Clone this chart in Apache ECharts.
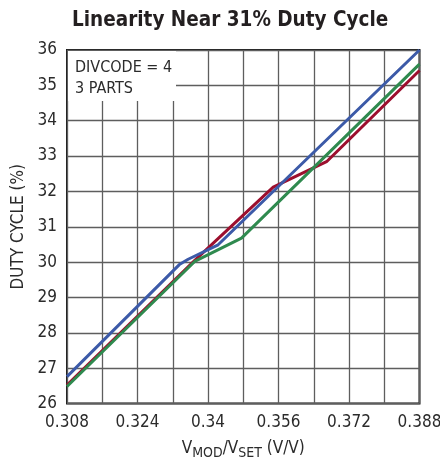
<!DOCTYPE html>
<html>
<head>
<meta charset="utf-8">
<script src="https://cdn.jsdelivr.net/npm/echarts@6/dist/echarts.min.js"></script>
<style>
  html, body { margin: 0; padding: 0; background: #fff; }
  #chart { width: 440px; height: 462px; }
</style>
</head>
<body>
<div id="chart"></div>
<script>
// Duty cycle vs. modulation ratio for three parts, DIVCODE = 4
const xTickLabels = ['0.308', '0.316', '0.324', '0.332', '0.34', '0.348', '0.356', '0.364', '0.372', '0.38', '0.388'];

const part1X = [0.308, 0.3335, 0.3355, 0.3423, 0.388];   // blue
const part1Y = [26.76, 29.93, 30.08, 30.49, 36.0];

const part2X = [0.308, 0.337, 0.3548, 0.3669, 0.388];    // red
const part2Y = [26.52, 30.05, 32.12, 32.84, 35.42];

const part3X = [0.308, 0.3371, 0.3476, 0.388];           // green
const part3Y = [26.48, 30.03, 30.68, 35.60];

const pairs = (xs, ys) => xs.map((x, i) => [x, ys[i]]);

const FONT = '"DejaVu Sans Condensed", "Liberation Sans Narrow", sans-serif';
const TEXT = '#2b2b2b';
const GRIDLINE = { color: '#5e5e5e', width: 1.3 };

const chart = echarts.init(document.getElementById('chart'), null, { renderer: 'canvas' });

chart.setOption({
  animation: false,
  backgroundColor: '#fff',
  title: {
    text: 'Linearity Near 31% Duty Cycle',
    left: 67,
    top: 5,
    textStyle: { fontFamily: FONT, fontWeight: 'bold', fontSize: 20.5, color: '#231f20' }
  },
  grid: {
    left: 67, right: 20.5, top: 50, bottom: 58.5,
    outerBoundsMode: 'none',
    containLabel: false,
    show: true, borderColor: '#1a1a1a', borderWidth: 2, backgroundColor: 'transparent'
  },
  xAxis: [
    {
      // tick labels and vertical grid lines
      type: 'category',
      data: xTickLabels,
      boundaryGap: false,
      axisLine: { show: false },
      axisTick: { show: false },
      axisLabel: {
        interval: 1, fontFamily: FONT, fontSize: 17, color: TEXT, margin: 11
      },
      splitLine: { show: true, interval: 0, lineStyle: GRIDLINE },
      name: 'V{sub|MOD}/V{sub|SET} (V/V)',
      nameLocation: 'middle',
      nameGap: 34,
      nameTextStyle: {
        fontFamily: FONT, fontSize: 17, color: TEXT,
        rich: { sub: { fontFamily: FONT, fontSize: 14, color: TEXT, padding: [9, 0, 0, 0] } }
      }
    },
    {
      // data scale
      type: 'value',
      min: 0.308, max: 0.388,
      show: false,
      splitLine: { show: false }
    }
  ],
  yAxis: {
    type: 'value',
    min: 26, max: 36, interval: 1,
    axisLine: { show: false },
    axisTick: { show: false },
    axisLabel: { fontFamily: FONT, fontSize: 17, color: TEXT, margin: 10 },
    splitLine: { show: true, lineStyle: GRIDLINE },
    name: 'DUTY CYCLE (%)',
    nameLocation: 'middle',
    nameGap: 40,
    nameTextStyle: { fontFamily: FONT, fontSize: 17, color: TEXT }
  },
  series: [
    {
      type: 'line', xAxisIndex: 1, data: pairs(part2X, part2Y),
      symbol: 'none', lineStyle: { color: '#9c0f2e', width: 3 }, z: 3
    },
    {
      type: 'line', xAxisIndex: 1, data: pairs(part3X, part3Y),
      symbol: 'none', lineStyle: { color: '#2f8a4f', width: 3 }, z: 4
    },
    {
      type: 'line', xAxisIndex: 1, data: pairs(part1X, part1Y),
      symbol: 'none', lineStyle: { color: '#3c5aa8', width: 3 }, z: 5
    }
  ],
  graphic: [
    {
      type: 'rect', z: 50,
      shape: { x: 68, y: 51, width: 108, height: 50 },
      style: { fill: '#fff' }
    },
    {
      type: 'text', z: 51, left: 75, top: 57,
      style: { text: 'DIVCODE = 4\n3 PARTS', font: '16px ' + FONT, fill: TEXT, lineHeight: 21 }
    }
  ]
});
</script>
</body>
</html>
